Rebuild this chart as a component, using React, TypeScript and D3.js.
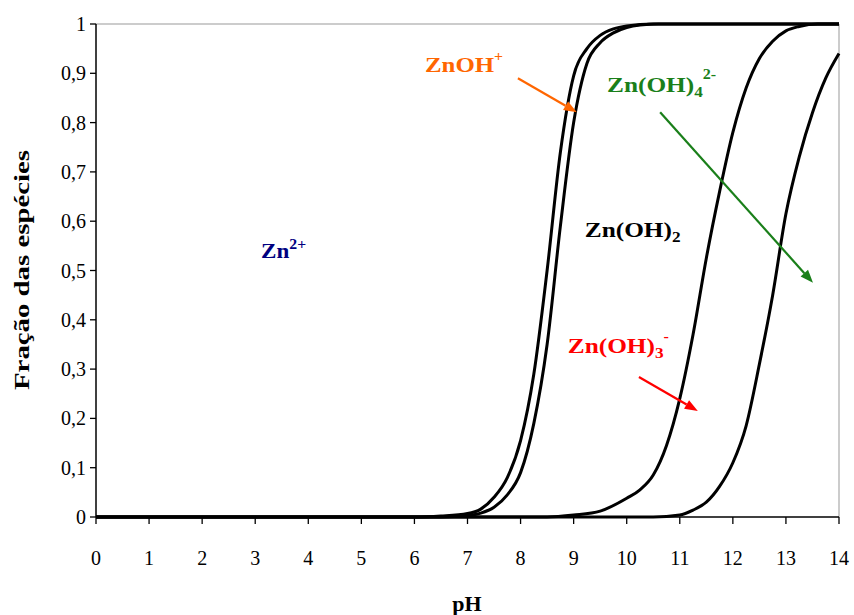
import React from "react";
import * as d3 from "d3";

// Cumulative distribution of zinc hydroxo species versus pH
const phTicks = d3.range(0, 15);
const fracTicks = d3.range(0, 11).map((i) => i / 10);

// Boundary Zn2+ / ZnOH+
const zn2PH = [0, 6.0, 6.5, 7.0, 7.25, 7.5, 7.75, 8.0, 8.25, 8.5, 8.75, 9.0, 9.25, 9.5, 9.75, 10.0, 10.5, 14];
const zn2Frac = [0, 0, 0.002, 0.007, 0.016, 0.04, 0.08, 0.155, 0.29, 0.5, 0.74, 0.895, 0.95, 0.977, 0.99, 0.996, 1, 1];

// Boundary ZnOH+ / Zn(OH)2
const znohPH = [0, 6.5, 7.0, 7.25, 7.5, 7.75, 8.0, 8.25, 8.5, 8.75, 9.0, 9.25, 9.5, 9.75, 10.0, 10.25, 10.6, 14];
const znohFrac = [0, 0, 0.003, 0.008, 0.02, 0.045, 0.09, 0.19, 0.35, 0.59, 0.8, 0.92, 0.962, 0.982, 0.993, 0.998, 1, 1];

// Boundary Zn(OH)2 / Zn(OH)3-
const znoh2PH = [0, 8.5, 9.0, 9.5, 10.0, 10.25, 10.5, 10.75, 11.0, 11.25, 11.5, 11.75, 12.0, 12.25, 12.5, 12.75, 13.0, 13.25, 13.6, 14];
const znoh2Frac = [0, 0, 0.004, 0.012, 0.038, 0.055, 0.085, 0.145, 0.24, 0.37, 0.525, 0.66, 0.78, 0.87, 0.93, 0.965, 0.986, 0.995, 1, 1];

// Boundary Zn(OH)3- / Zn(OH)4 2-
const znoh3PH = [0, 10.5, 11.0, 11.25, 11.5, 11.75, 12.0, 12.25, 12.5, 12.75, 13.0, 13.25, 13.5, 13.75, 14];
const znoh3Frac = [0, 0, 0.004, 0.014, 0.03, 0.062, 0.11, 0.185, 0.31, 0.45, 0.615, 0.73, 0.82, 0.89, 0.94];

const curves = [
  { ph: zn2PH, frac: zn2Frac },
  { ph: znohPH, frac: znohFrac },
  { ph: znoh2PH, frac: znoh2Frac },
  { ph: znoh3PH, frac: znoh3Frac },
];

const W = 854;
const H = 615;
const serif = "'Liberation Serif', 'Times New Roman', serif";

export default function App() {
  const x = d3.scaleLinear().domain([0, 14]).range([96, 839]);
  const y = d3.scaleLinear().domain([0, 1]).range([517, 24]);
  const line = d3
    .line<[number, number]>()
    .x((d) => x(d[0]))
    .y((d) => y(d[1]))
    .curve(d3.curveMonotoneX);

  const fmt = (v: number) => (v === 0 || v === 1 ? String(v) : d3.format(".1f")(v).replace(".", ","));

  const arrow = (x1: number, y1: number, x2: number, y2: number, color: string) => {
    const ax = x(x1), ay = y(y1), bx = x(x2), by = y(y2);
    const ang = Math.atan2(by - ay, bx - ax);
    const len = 13, half = 5;
    const baseX = bx - len * Math.cos(ang), baseY = by - len * Math.sin(ang);
    const p1 = [baseX + half * Math.sin(ang), baseY - half * Math.cos(ang)];
    const p2 = [baseX - half * Math.sin(ang), baseY + half * Math.cos(ang)];
    return (
      <g>
        <line x1={ax} y1={ay} x2={baseX} y2={baseY} stroke={color} strokeWidth={2.2} />
        <polygon points={`${bx},${by} ${p1[0]},${p1[1]} ${p2[0]},${p2[1]}`} fill={color} />
      </g>
    );
  };

  const label = (px: number, fy: number, sx: number, color: string, children: React.ReactNode) => (
    <g transform={`translate(${x(px)},${y(fy)}) scale(${sx},1)`}>
      <text x={0} y={0} fill={color} fontFamily={serif} fontWeight="bold" fontSize={22}>
        {children}
      </text>
    </g>
  );

  return (
    <svg width={W} height={H} style={{ position: "absolute", left: 0, top: 0, background: "#fff" }}>
      {/* plot frame */}
      <line x1={x(0)} y1={y(1)} x2={x(14)} y2={y(1)} stroke="#999" strokeWidth={1} />
      <line x1={x(14)} y1={y(1)} x2={x(14)} y2={y(0)} stroke="#999" strokeWidth={1} />

      {/* y axis */}
      <line x1={x(0)} y1={y(0)} x2={x(0)} y2={y(1)} stroke="#000" strokeWidth={1.5} />
      {fracTicks.map((t) => (
        <g key={"y" + t}>
          <line x1={x(0) - 6} x2={x(0)} y1={y(t)} y2={y(t)} stroke="#000" strokeWidth={1.3} />
          <text x={x(0) - 10} y={y(t)} dy="0.35em" textAnchor="end" fontFamily={serif} fontSize={20} fill="#000">
            {fmt(t)}
          </text>
        </g>
      ))}

      {/* x axis */}
      <line x1={x(0)} y1={y(0)} x2={x(14)} y2={y(0)} stroke="#000" strokeWidth={1.5} />
      {phTicks.map((t) => (
        <g key={"x" + t}>
          <line x1={x(t)} x2={x(t)} y1={y(0)} y2={y(0) + 7} stroke="#000" strokeWidth={1.3} />
          <text x={x(t)} y={565} textAnchor="middle" fontFamily={serif} fontSize={20} fill="#000">
            {t}
          </text>
        </g>
      ))}

      <text x={467} y={611} textAnchor="middle" fontFamily={serif} fontWeight="bold" fontSize={22} fill="#000">
        pH
      </text>
      <text
        transform={`translate(29,270) rotate(-90)`}
        textAnchor="middle"
        fontFamily={serif}
        fontWeight="bold"
        fontSize={22}
        fill="#000"
        textLength={240}
        lengthAdjust="spacingAndGlyphs"
      >
        Fração das espécies
      </text>

      {/* distribution curves */}
      {curves.map((c, i) => (
        <path
          key={i}
          d={line(c.ph.map((p, j) => [p, c.frac[j]] as [number, number])) || ""}
          fill="none"
          stroke="#000"
          strokeWidth={3}
          strokeLinejoin="round"
        />
      ))}

      {/* species annotations */}
      {label(3.11, 0.525, 1.05, "#000080", (
        <>
          <tspan>Zn</tspan>
          <tspan dy={-9} fontSize={15}>2+</tspan>
        </>
      ))}
      {label(6.2, 0.903, 1.13, "#FF6600", (
        <>
          <tspan>ZnOH</tspan>
          <tspan dy={-11} fontSize={14}>+</tspan>
        </>
      ))}
      {label(9.21, 0.568, 1.15, "#000", (
        <>
          <tspan>Zn(OH)</tspan>
          <tspan dy={5} fontSize={15}>2</tspan>
        </>
      ))}
      {label(8.89, 0.333, 1.15, "#FF0000", (
        <>
          <tspan>Zn(OH)</tspan>
          <tspan dy={5} fontSize={15}>3</tspan>
          <tspan dy={-17} fontSize={14}>-</tspan>
        </>
      ))}
      {label(9.63, 0.862, 1.15, "#1A7F1A", (
        <>
          <tspan>Zn(OH)</tspan>
          <tspan dy={5} fontSize={15}>4</tspan>
          <tspan dy={-18} fontSize={14}>2-</tspan>
        </>
      ))}

      {arrow(7.95, 0.89, 9.06, 0.821, "#FF6600")}
      {arrow(10.63, 0.821, 13.51, 0.475, "#1A7F1A")}
      {arrow(10.23, 0.284, 11.34, 0.215, "#FF0000")}
    </svg>
  );
}
